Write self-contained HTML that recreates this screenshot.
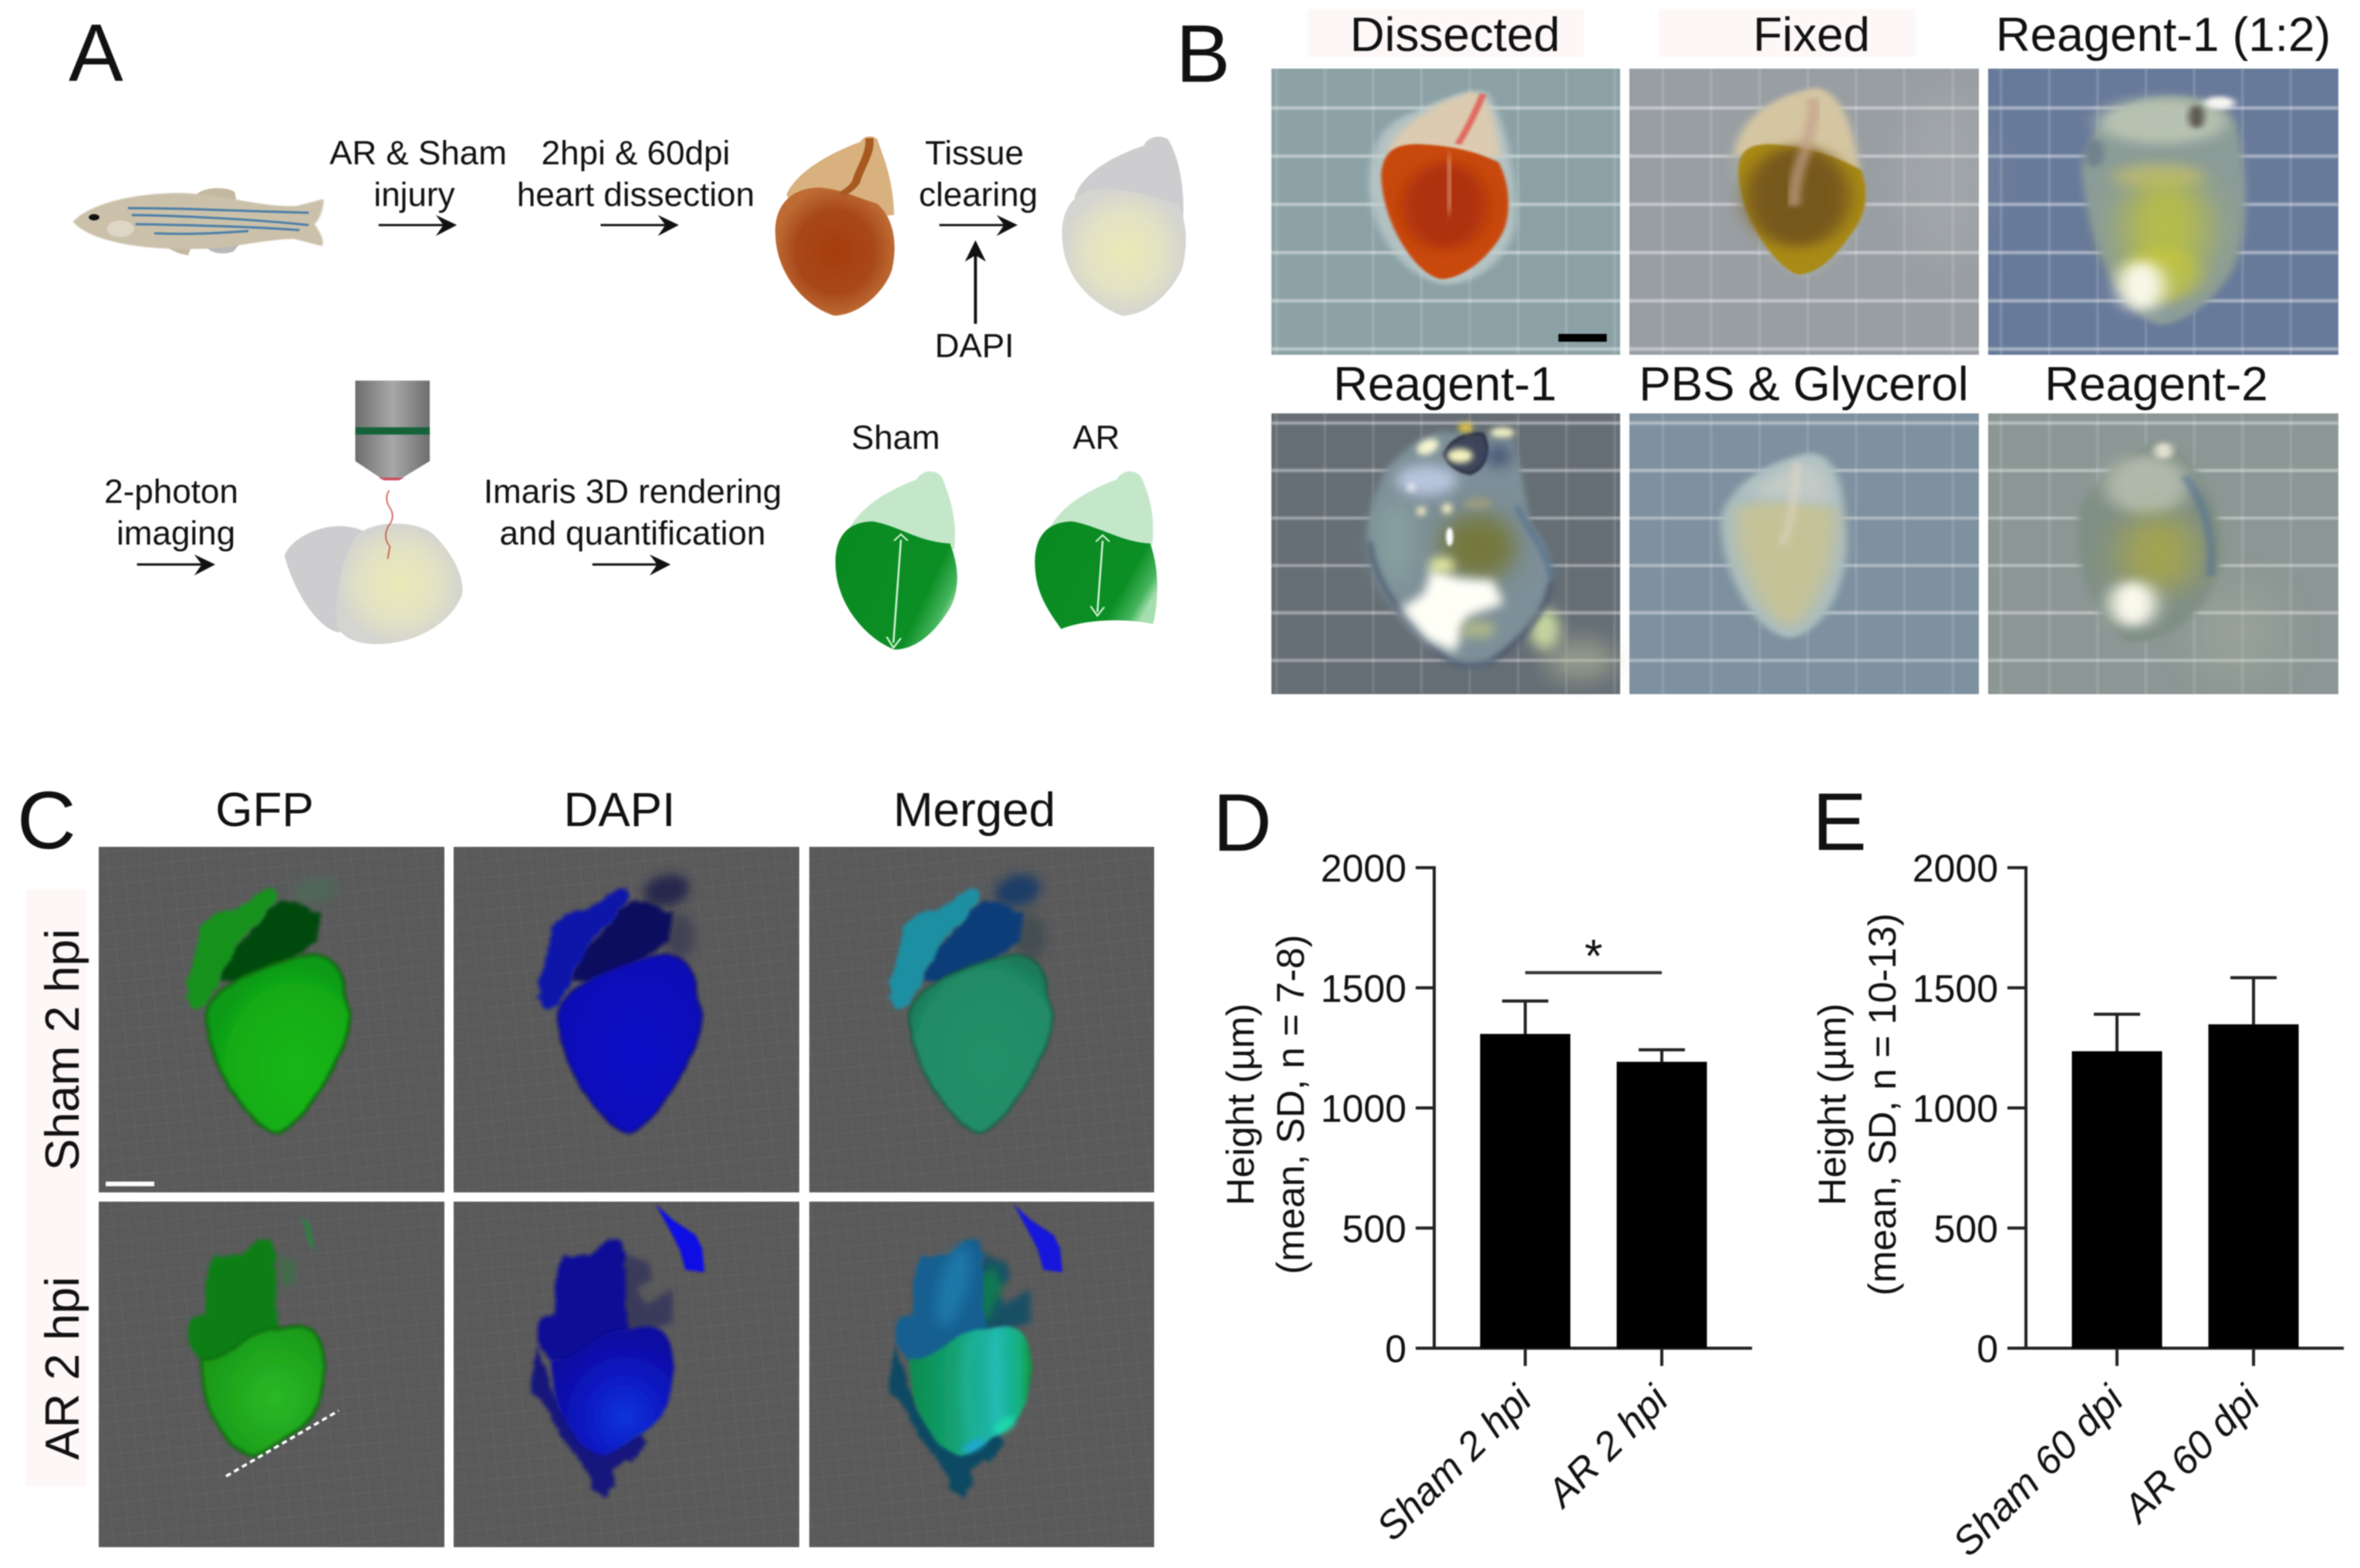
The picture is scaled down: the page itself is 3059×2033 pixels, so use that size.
<!DOCTYPE html>
<html lang="en">
<head>
<meta charset="utf-8">
<title>Zebrafish heart clearing figure</title>
<style>
html,body{margin:0;padding:0;background:#fff;}
#figure{display:block;width:3059px;height:2033px;filter:blur(0.7px);}
text{font-family:"Liberation Sans",Arial,sans-serif;fill:#111;}
.a{font-size:44px;text-anchor:middle;}
.b{font-size:62px;text-anchor:middle;}
.p{font-size:106px;}
</style>
</head>
<body>
<svg id="figure" xmlns="http://www.w3.org/2000/svg" width="3059" height="2033" viewBox="0 0 3059 2033">
<defs>
  <filter id="b1"><feGaussianBlur stdDeviation="1"/></filter>
  <filter id="b2" x="-20%" y="-20%" width="140%" height="140%"><feGaussianBlur stdDeviation="2"/></filter>
  <filter id="b5" x="-30%" y="-30%" width="160%" height="160%"><feGaussianBlur stdDeviation="5"/></filter>
  <filter id="b12" x="-50%" y="-50%" width="200%" height="200%"><feGaussianBlur stdDeviation="12"/></filter>
  <filter id="b20" x="-60%" y="-60%" width="220%" height="220%"><feGaussianBlur stdDeviation="20"/></filter>
  <filter id="b25" x="-80%" y="-80%" width="260%" height="260%"><feGaussianBlur stdDeviation="25"/></filter>
  <filter id="b45" x="-100%" y="-100%" width="300%" height="300%"><feGaussianBlur stdDeviation="45"/></filter>
  <filter id="rough" x="-15%" y="-15%" width="130%" height="130%"><feTurbulence type="fractalNoise" baseFrequency="0.03" numOctaves="3" seed="4" result="n"/><feDisplacementMap in="SourceGraphic" in2="n" scale="28" xChannelSelector="R" yChannelSelector="G"/><feGaussianBlur stdDeviation="7"/></filter>
  <filter id="rough2" x="-15%" y="-15%" width="130%" height="130%"><feTurbulence type="fractalNoise" baseFrequency="0.015" numOctaves="2" seed="7" result="n"/><feDisplacementMap in="SourceGraphic" in2="n" scale="12" xChannelSelector="R" yChannelSelector="G"/><feGaussianBlur stdDeviation="6"/></filter>
  <radialGradient id="g-red"><stop offset="0" stop-color="#a63c0c"/><stop offset="0.65" stop-color="#a8481a"/><stop offset="1" stop-color="#bd6a33"/></radialGradient>
  <radialGradient id="g-clear"><stop offset="0" stop-color="#e9e9b6"/><stop offset="0.6" stop-color="#e2e2c4"/><stop offset="1" stop-color="#d4d4d0"/></radialGradient>
  <linearGradient id="g-green" x1="0" y1="0.15" x2="1" y2="0.65"><stop offset="0" stop-color="#0a8a20"/><stop offset="0.76" stop-color="#0b8e24"/><stop offset="0.92" stop-color="#45b45c"/><stop offset="1" stop-color="#a5dfaf"/></linearGradient>
  <linearGradient id="g-obj" x1="0" y1="0" x2="1" y2="0"><stop offset="0" stop-color="#6e6e6e"/><stop offset="0.5" stop-color="#a8a8a8"/><stop offset="1" stop-color="#6e6e6e"/></linearGradient>
  <radialGradient id="g-gfp" cx="0.62" cy="0.65" r="0.6"><stop offset="0" stop-color="#14b814"/><stop offset="0.8" stop-color="#12aa14"/><stop offset="1" stop-color="#0e9a12"/></radialGradient>
  <radialGradient id="g-dapi" cx="0.55" cy="0.55" r="0.6"><stop offset="0" stop-color="#0b0fc8"/><stop offset="1" stop-color="#0a0cb4"/></radialGradient>
  <radialGradient id="g-merge" cx="0.55" cy="0.6" r="0.6"><stop offset="0" stop-color="#24916a"/><stop offset="0.85" stop-color="#208a66"/><stop offset="1" stop-color="#1a7a58"/></radialGradient>
  <radialGradient id="g-gfp2" cx="0.6" cy="0.55" r="0.6"><stop offset="0" stop-color="#2ab826"/><stop offset="1" stop-color="#1a9a18"/></radialGradient>
  <radialGradient id="g-dapi2" cx="0.6" cy="0.7" r="0.65"><stop offset="0" stop-color="#0c34dc"/><stop offset="0.6" stop-color="#0a14bc"/><stop offset="1" stop-color="#0a0ca0"/></radialGradient>
  <linearGradient id="g-merge2" x1="0" y1="0" x2="1" y2="0"><stop offset="0" stop-color="#0f8a4c"/><stop offset="0.35" stop-color="#12a070"/><stop offset="0.72" stop-color="#1eb8b0"/><stop offset="0.9" stop-color="#14b080"/><stop offset="1" stop-color="#10963c"/></linearGradient>
  <pattern id="paper1" patternUnits="userSpaceOnUse" width="62.6" height="62.5" patternTransform="translate(1716 138)"><rect x="0" y="0" width="2.5" height="62.5" fill="#fff" opacity="0.2"/><rect x="0" y="0" width="63" height="4" fill="#fff" opacity="0.45"/></pattern>
  <pattern id="paper2" patternUnits="userSpaceOnUse" width="62.6" height="61.5" patternTransform="translate(1716 608)"><rect x="0" y="0" width="2.5" height="62.5" fill="#fff" opacity="0.17"/><rect x="0" y="0" width="63" height="4" fill="#fff" opacity="0.42"/></pattern>
  <pattern id="mesh" patternUnits="userSpaceOnUse" width="21" height="21" patternTransform="rotate(-6)"><path d="M0 0H21M0 0V21" stroke="#8a8a8a" stroke-width="1.4" fill="none"/></pattern>
  <g id="arrow"><path d="M0 0H92" stroke="#111" stroke-width="5" fill="none"/><path d="M104 0L76 -22L86 0L76 24Z" fill="#111"/></g>
  <path id="sham-v" d="M420 640C430 590 500 530 620 480C700 450 790 410 860 425C930 440 950 500 960 590C990 650 970 730 930 820C880 930 780 1080 700 1112C640 1110 580 1040 520 950C460 860 415 740 420 640Z"/>
  <path id="sham-af" d="M340 590L345 520L375 420L395 310L440 265L540 240L640 170L680 160L695 190L640 280L560 350L490 470L470 530L410 620L370 630Z"/>
  <path id="sham-ab" d="M470 520L500 420L590 330L660 240L710 205L800 230L865 260L860 320L830 390L760 430L640 490L540 520Z"/>
  <path id="ar-v" d="M390 610C470 620 520 560 600 510C680 490 780 480 820 500C860 550 870 620 860 700C850 790 810 870 730 910C680 940 620 980 590 990C520 980 440 880 410 780C395 720 385 660 390 610Z"/>
  <path id="ar-a" d="M335 480L340 460L400 440L410 270L440 210L540 210L600 150L660 145L675 210L680 500L600 540L520 620L400 620L340 570Z"/>
  <path id="ar-back" d="M680 205L770 240L780 300L720 340L760 400L860 340L860 470L800 490L620 520L640 300Z"/>
  <path id="ar-fringe" d="M330 560L310 740L360 780C400 880 490 1000 550 1080L540 1120L600 1145L640 1100L625 1040L720 990L760 940L730 900L590 980L420 800Z"/>
  <path id="ar-frag" d="M795 10L860 70L950 130L975 180L985 275L910 265L890 190L860 130Z"/>
  <clipPath id="clip-b"><rect x="1648" y="89" width="452" height="371"/><rect x="2112" y="89" width="453" height="371"/><rect x="2577" y="89" width="454" height="371"/><rect x="1648" y="536" width="452" height="364"/><rect x="2112" y="536" width="453" height="364"/><rect x="2577" y="536" width="454" height="364"/></clipPath>
</defs>

<rect width="3059" height="2033" fill="#fff"/>

<!-- Panel labels -->
<text class="p" x="89" y="105">A</text>
<text class="p" x="1524" y="106">B</text>
<text class="p" x="22" y="1100">C</text>
<text class="p" x="1572" y="1103">D</text>
<text class="p" x="2349" y="1102">E</text>

<!-- Panel A graphics, drawn in a 1.025 x 1.686 stretched space -->
<g transform="scale(0.9756 0.5931)">
  <g>
    <path d="M260 428C265 410 300 405 312 420L315 450Z" fill="#c4b9a0"/>
    <path d="M218 535L255 535L250 558C235 555 225 545 218 535Z" fill="#c4b9a0"/>
    <path d="M270 530C290 505 320 510 330 510L310 550C290 560 275 550 270 530Z" fill="#b9b9b9"/>
    <path d="M97 485C115 450 170 422 240 422C300 425 350 455 395 450L430 435C430 460 424 480 418 490C424 505 432 525 428 538L390 522C340 525 300 548 240 544C170 544 115 520 97 485Z" fill="#cbc1aa" filter="url(#b1)"/>
    <ellipse cx="160" cy="500" rx="18" ry="18" fill="#ded7c6"/>
    <circle cx="125" cy="475" r="7" fill="#111"/>
    <path d="M170 455C250 455 330 462 410 465M175 470C250 472 340 480 410 492M180 490C250 492 330 495 398 503M205 510C250 513 290 510 330 505" stroke="#4c7fa8" stroke-width="5" fill="none"/>
  </g>
  <use href="#arrow" x="503" y="492"/>
  <use href="#arrow" x="798" y="492"/>
  <use href="#arrow" x="1248" y="492"/>
  <path d="M1296 708V540" stroke="#111" stroke-width="4" fill="none"/>
  <path d="M1296 525L1282 572L1296 558L1310 572Z" fill="#111"/>
  <use href="#arrow" x="182" y="1234"/>
  <use href="#arrow" x="787" y="1234"/>

  <g>
    <path d="M1045 425C1060 370 1110 330 1143 310C1148 295 1160 295 1166 305C1172 340 1186 380 1188 470L1120 480L1060 480Z" fill="#d9b17f"/>
    <path d="M1030 505C1030 450 1050 410 1090 410C1120 415 1135 430 1165 445C1190 480 1192 540 1185 590C1175 640 1140 690 1108 690C1070 670 1030 600 1030 505Z" fill="url(#g-red)"/>
    <path d="M1155 302C1158 335 1140 375 1138 395C1135 408 1125 418 1118 425" stroke="#a75a1f" stroke-width="11" fill="none"/>
  </g>
  <g>
    <path d="M1428 430C1440 370 1490 335 1520 318C1525 296 1545 295 1552 305C1565 340 1574 400 1572 480L1470 480L1430 470Z" fill="#cdcdcf"/>
    <path d="M1411 510C1411 450 1430 412 1470 412C1510 418 1540 430 1566 450C1578 490 1578 540 1570 590C1555 640 1525 690 1490 690C1445 660 1411 600 1411 510Z" fill="url(#g-clear)"/>
  </g>
  <g>
    <path d="M472 832H571V1008L535 1044L505 1044L472 1008Z" fill="url(#g-obj)"/>
    <rect x="472" y="934" width="99" height="16" fill="#16633a"/>
    <path d="M503 1044H537L530 1050H510Z" fill="#c94a5a"/>
  </g>
  <g>
    <path d="M378 1215C385 1180 420 1150 450 1150C480 1150 500 1170 500 1200L500 1380L448 1382C420 1370 390 1290 378 1215Z" fill="#cdcdcf"/>
    <path d="M475 1170C495 1135 560 1135 580 1175C600 1210 618 1260 614 1300C600 1360 555 1408 500 1408C470 1408 450 1390 447 1360C445 1300 455 1210 475 1170Z" fill="url(#g-clear)"/>
    <path d="M517 1072Q510 1090 518 1110Q526 1130 516 1150Q508 1175 518 1195L515 1222" stroke="#c5492f" stroke-width="2" fill="none" opacity="0.8"/>
  </g>
  <g>
    <path d="M1127 1160C1145 1100 1190 1065 1218 1048C1225 1025 1245 1025 1252 1045C1262 1090 1272 1130 1268 1200L1180 1210L1130 1190Z" fill="#c4e7ca"/>
    <path d="M1110 1230C1110 1175 1125 1140 1160 1140C1195 1150 1220 1185 1262 1188C1275 1240 1275 1290 1262 1330C1245 1375 1220 1420 1188 1420C1150 1395 1110 1320 1110 1230Z" fill="url(#g-green)"/>
    <path d="M1197 1180L1187 1405M1188 1182L1197 1168L1206 1182M1178 1392L1187 1416L1197 1395" stroke="#d7f5da" stroke-width="2.5" fill="none"/>
  </g>
  <g>
    <path d="M1393 1160C1410 1100 1455 1065 1484 1048C1491 1025 1510 1025 1517 1045C1528 1090 1536 1130 1530 1200L1445 1210L1396 1190Z" fill="#c4e7ca"/>
    <path d="M1375 1230C1375 1175 1390 1140 1425 1140C1460 1150 1490 1185 1528 1188C1540 1240 1540 1310 1532 1364C1490 1350 1440 1355 1410 1375C1390 1330 1375 1290 1375 1230Z" fill="url(#g-green)"/>
    <path d="M1465 1182L1458 1338M1456 1184L1465 1170L1474 1184M1449 1325L1458 1346L1467 1327" stroke="#d7f5da" stroke-width="2.5" fill="none"/>
  </g>
</g>

<!-- Panel A text -->
<text class="a" x="542" y="213">AR &amp; Sham</text>
<text class="a" x="537" y="267">injury</text>
<text class="a" x="824" y="213">2hpi &amp; 60dpi</text>
<text class="a" x="824" y="267">heart dissection</text>
<text class="a" x="1263" y="213">Tissue</text>
<text class="a" x="1268" y="267">clearing</text>
<text class="a" x="1263" y="463">DAPI</text>
<text class="a" x="222" y="652">2-photon</text>
<text class="a" x="228" y="706">imaging</text>
<text class="a" x="820" y="652">Imaris 3D rendering</text>
<text class="a" x="820" y="706">and quantification</text>
<text class="a" x="1161" y="582">Sham</text>
<text class="a" x="1421" y="582">AR</text>

<!-- Panel B -->
<rect x="1695" y="12" width="358" height="62" fill="#fdf7f7"/>
<rect x="2150" y="12" width="333" height="62" fill="#fdf7f7"/>
<text class="b" x="1886" y="66">Dissected</text>
<text class="b" x="2348" y="66">Fixed</text>
<text class="b" x="2804" y="66">Reagent-1 (1:2)</text>
<text class="b" x="1873" y="519">Reagent-1</text>
<text class="b" x="2338" y="519">PBS &amp; Glycerol</text>
<text class="b" x="2795" y="519">Reagent-2</text>

<g>
  <rect x="1648" y="89" width="452" height="371" fill="#8ba1a5"/>
  <rect x="2112" y="89" width="453" height="371" fill="#999ea3"/>
  <rect x="2577" y="89" width="454" height="371" fill="#687a9a"/>
  <rect x="1648" y="536" width="452" height="364" fill="#656e75"/>
  <rect x="2112" y="536" width="453" height="364" fill="#7e91a0"/>
  <rect x="2577" y="536" width="454" height="364" fill="#8c9795"/>
  <g clip-path="url(#clip-b)">
    <rect x="1648" y="89" width="1383" height="371" fill="url(#paper1)" filter="url(#b1)"/>
    <rect x="1648" y="536" width="1383" height="364" fill="url(#paper2)" filter="url(#b1)"/>
    <ellipse cx="2520" cy="230" rx="60" ry="110" fill="#c2c6c6" opacity="0.2" filter="url(#b25)"/>
    <ellipse cx="2900" cy="820" rx="60" ry="60" fill="#b8c0a8" opacity="0.25" filter="url(#b25)"/>
  </g>
  <g transform="translate(1500 0) scale(0.9942 0.5931)">
    <g>
      <path d="M276 400C278 300 300 265 335 245C370 215 405 195 430 200C450 260 466 330 468 480C462 560 420 622 375 622C320 610 276 500 276 400Z" fill="#c4d0d0" opacity="0.7" filter="url(#b5)"/>
      <path d="M300 330C315 270 370 220 410 200C430 205 440 250 448 345L395 340Z" fill="#dccbb0" filter="url(#b5)"/>
      <path d="M292 380C295 330 310 315 340 315C390 318 420 335 445 355C460 400 462 470 450 510C430 570 395 610 370 610C335 600 292 480 292 380Z" fill="#c9480f" filter="url(#b2)"/>
      <ellipse cx="375" cy="450" rx="55" ry="95" fill="#ad3309" filter="url(#b12)"/>
      <path d="M425 205C415 245 405 280 392 315" stroke="#e06a60" stroke-width="9" fill="none" filter="url(#b2)"/>
      <path d="M380 340C385 380 375 420 382 465" stroke="#ecc0a8" stroke-width="16" fill="none" opacity="0.75" filter="url(#b12)"/>
    </g>
    <g>
      <path d="M745 340C750 260 790 210 860 190C895 200 915 290 925 440C925 500 880 610 840 608C790 590 745 440 745 340Z" fill="#a6aca6" opacity="0.6" filter="url(#b5)"/>
      <path d="M752 340C760 260 800 210 860 192C890 205 905 260 915 372L840 340Z" fill="#d5c6a2" filter="url(#b5)"/>
      <path d="M758 375C758 330 770 315 800 315C850 320 890 345 918 372C928 420 925 470 905 510C885 560 860 600 835 600C800 580 758 460 758 375Z" fill="#a98a12" filter="url(#b2)"/>
      <ellipse cx="835" cy="430" rx="68" ry="110" fill="#77581a" filter="url(#b12)"/>
      <path d="M855 215C860 260 845 300 845 330C835 370 830 410 830 450" stroke="#c2a08a" stroke-width="16" fill="none" opacity="0.7" filter="url(#b5)"/>
    </g>
    <g>
      <path d="M1205 370C1210 290 1240 240 1290 215C1340 200 1395 215 1410 290C1420 380 1425 500 1405 580C1385 650 1340 710 1305 710C1260 690 1215 560 1205 370Z" fill="#8b9c98" filter="url(#b5)"/>
      <ellipse cx="1310" cy="265" rx="85" ry="50" fill="#bcc6b4" opacity="0.9" filter="url(#b12)"/>
      <ellipse cx="1385" cy="225" rx="20" ry="14" fill="#f6f6f0" filter="url(#b5)"/>
      <ellipse cx="1305" cy="385" rx="60" ry="28" fill="#d0c46a" opacity="0.55" filter="url(#b12)"/>
      <ellipse cx="1315" cy="500" rx="55" ry="115" fill="#c0c438" opacity="0.8" filter="url(#b25)"/>
      <ellipse cx="1310" cy="600" rx="50" ry="60" fill="#c4c63c" opacity="0.7" filter="url(#b12)"/>
      <ellipse cx="1283" cy="625" rx="30" ry="55" fill="#f8f8e8" filter="url(#b12)"/>
      <ellipse cx="1355" cy="255" rx="10" ry="26" fill="#5a564e" filter="url(#b5)"/>
      <ellipse cx="1222" cy="335" rx="12" ry="30" fill="#5d7084" opacity="0.6" filter="url(#b5)"/>
    </g>
    <g>
      <path d="M735 1140C740 1070 790 1010 850 990C880 990 895 1050 895 1130C910 1230 880 1380 825 1395C770 1380 735 1230 735 1140Z" fill="#a9bcc0" filter="url(#b5)"/>
      <path d="M755 1110C790 1090 830 1090 885 1110C890 1180 875 1320 825 1375C785 1350 748 1220 755 1110Z" fill="#c5c298" filter="url(#b12)"/>
      <path d="M770 1080C790 1040 825 1010 860 1005C875 1040 880 1075 880 1100L830 1095Z" fill="#c9cec8" opacity="0.8" filter="url(#b12)"/>
      <path d="M835 1010C830 1080 830 1130 815 1190" stroke="#e4d8c8" stroke-width="8" fill="none" opacity="0.7" filter="url(#b5)"/>
    </g>
    <g>
      <path d="M1200 1130C1210 1060 1260 990 1305 965C1350 980 1385 1090 1390 1200C1385 1300 1340 1400 1270 1405C1220 1370 1195 1240 1200 1130Z" fill="#808f86" filter="url(#b5)"/>
      <ellipse cx="1290" cy="1060" rx="55" ry="65" fill="#b8c0b0" opacity="0.85" filter="url(#b12)"/>
      <ellipse cx="1305" cy="1210" rx="50" ry="85" fill="#a9a846" opacity="0.85" filter="url(#b25)"/>
      <ellipse cx="1272" cy="1320" rx="30" ry="50" fill="#fbfbec" filter="url(#b12)"/>
      <ellipse cx="1312" cy="985" rx="12" ry="18" fill="#e4e0d0" filter="url(#b5)"/>
      <path d="M1340 1040C1365 1100 1380 1180 1372 1260" stroke="#4a6a92" stroke-width="6" fill="none" filter="url(#b5)"/>
    </g>
    <rect x="523" y="730" width="63" height="17" fill="#000"/>
  </g>
  <g transform="translate(1649 536) scale(0.3333)" clip-path="none">
    <ellipse cx="1060" cy="840" rx="60" ry="80" fill="#cfe0a4" opacity="0.9" filter="url(#b25)"/>
    <ellipse cx="1200" cy="960" rx="140" ry="80" fill="#c0c4a0" opacity="0.5" filter="url(#b45)"/>
    <path d="M370 470C370 380 420 260 440 220C500 150 570 90 660 70L940 100C970 200 980 330 1010 440C1060 500 1090 570 1085 650C1060 780 950 900 830 975C780 995 720 985 680 950C560 880 440 750 400 640C375 570 368 520 370 470Z" fill="#7d8f98" filter="url(#b12)"/>
    <ellipse cx="800" cy="520" rx="150" ry="130" fill="#74783c" filter="url(#b45)"/>
    <ellipse cx="480" cy="500" rx="70" ry="170" fill="#86a0a0" filter="url(#b45)"/>
    <ellipse cx="600" cy="260" rx="120" ry="60" fill="#b8c4dc" filter="url(#b25)"/>
    <path d="M380 500C390 620 480 790 660 940C720 990 800 990 860 960C960 890 1070 780 1085 650" stroke="#3f4b66" stroke-width="14" fill="none" filter="url(#b12)"/>
    <path d="M950 360C1000 470 1070 530 1085 640" stroke="#4a6a90" stroke-width="14" fill="none" filter="url(#b12)"/>
    <path d="M620 600L720 640L860 650L900 740L760 790L710 930L600 880L500 760L590 700Z" fill="#fffff6" filter="url(#b20)"/>
    <ellipse cx="800" cy="840" rx="70" ry="35" fill="#aab48a" filter="url(#b20)"/>
    <ellipse cx="660" cy="590" rx="50" ry="30" fill="#e4eaa0" filter="url(#b20)"/>
    <ellipse cx="690" cy="480" rx="14" ry="36" fill="#fff" filter="url(#b5)"/>
    <circle cx="580" cy="380" r="18" fill="#f4ecc0" filter="url(#b12)"/>
    <circle cx="680" cy="370" r="20" fill="#f4ecc0" filter="url(#b12)"/>
    <circle cx="540" cy="288" r="14" fill="#fff" filter="url(#b12)"/>
    <ellipse cx="800" cy="350" rx="55" ry="22" fill="#9a9a80" filter="url(#b12)"/>
    <path d="M670 160C690 100 760 70 820 80C850 130 840 210 770 235C730 230 680 200 670 160Z" fill="#3e4558" stroke="#24283c" stroke-width="9" filter="url(#b5)"/>
    <ellipse cx="730" cy="165" rx="50" ry="28" fill="#f4f4c0" filter="url(#b12)"/>
    <ellipse cx="752" cy="55" rx="28" ry="18" fill="#e8c840" filter="url(#b12)"/>
    <ellipse cx="895" cy="75" rx="48" ry="20" fill="#f6f6c8" filter="url(#b12)"/>
    <ellipse cx="605" cy="130" rx="45" ry="28" fill="#f6f6d0" transform="rotate(-25 605 130)" filter="url(#b12)"/>
    <ellipse cx="880" cy="165" rx="55" ry="45" fill="#3a4a70" opacity="0.7" filter="url(#b25)"/>
  </g>
</g>

<!-- Panel C -->
<rect x="34" y="1153" width="78" height="774" fill="#fdf7f7"/>
<text class="b" x="343" y="1071">GFP</text>
<text class="b" x="803" y="1071">DAPI</text>
<text class="b" x="1263" y="1071">Merged</text>
<text class="b" transform="translate(102 1361) rotate(-90)">Sham 2 hpi</text>
<text class="b" transform="translate(102 1774) rotate(-90)">AR 2 hpi</text>

<g>
  <rect x="128" y="1098" width="448" height="448" fill="#5a5a5b"/>
  <rect x="588" y="1098" width="448" height="448" fill="#5a5a5b"/>
  <rect x="1049" y="1098" width="447" height="448" fill="#5a5a5b"/>
  <rect x="128" y="1558" width="448" height="448" fill="#5a5a5b"/>
  <rect x="588" y="1558" width="448" height="448" fill="#5a5a5b"/>
  <rect x="1049" y="1558" width="447" height="448" fill="#5a5a5b"/>
  <g opacity="0.22">
    <rect x="128" y="1098" width="448" height="448" fill="url(#mesh)"/><rect x="588" y="1098" width="448" height="448" fill="url(#mesh)"/><rect x="1049" y="1098" width="447" height="448" fill="url(#mesh)"/>
    <rect x="128" y="1558" width="448" height="448" fill="url(#mesh)"/><rect x="588" y="1558" width="448" height="448" fill="url(#mesh)"/><rect x="1049" y="1558" width="447" height="448" fill="url(#mesh)"/>
  </g>

  <g transform="translate(128 1098) scale(0.3333)">
    <ellipse cx="840" cy="170" rx="90" ry="50" fill="#4e6a58" opacity="0.8" transform="rotate(-15 840 170)" filter="url(#b20)"/>
    <use href="#sham-ab" fill="#04480f" filter="url(#rough)"/>
    <use href="#sham-af" fill="#12921a" filter="url(#rough)"/>
    <use href="#sham-v" fill="url(#g-gfp)" stroke="#086a0a" stroke-width="12" filter="url(#rough2)"/>
  </g>
  <g transform="translate(584 1098) scale(0.3333)">
    <ellipse cx="840" cy="170" rx="90" ry="60" fill="#20204c" opacity="0.9" transform="rotate(-15 840 170)" filter="url(#b20)"/>
    <ellipse cx="890" cy="350" rx="60" ry="90" fill="#3a3a52" opacity="0.75" filter="url(#b20)"/>
    <use href="#sham-ab" fill="#0a0a5e" filter="url(#rough)"/>
    <use href="#sham-af" fill="#0a12a8" filter="url(#rough)"/>
    <use href="#sham-v" fill="url(#g-dapi)" stroke="#0a0a80" stroke-width="9" filter="url(#rough2)"/>
  </g>
  <g transform="translate(1039 1098) scale(0.3333)">
    <ellipse cx="840" cy="170" rx="90" ry="60" fill="#123a68" opacity="0.9" transform="rotate(-15 840 170)" filter="url(#b20)"/>
    <ellipse cx="890" cy="350" rx="60" ry="90" fill="#3c4a50" opacity="0.75" filter="url(#b20)"/>
    <use href="#sham-ab" fill="#0d3c78" filter="url(#rough)"/>
    <use href="#sham-af" fill="#1f8fa2" filter="url(#rough)"/>
    <use href="#sham-v" fill="url(#g-merge)" stroke="#155a40" stroke-width="9" filter="url(#rough2)"/>
  </g>

  <g transform="translate(132 1558) scale(0.3333)">
    <path d="M770 50L810 90L830 200L800 150L790 100Z" fill="#2f7f44" filter="url(#b5)"/>
    <path d="M690 210L760 240L740 330L700 320Z" fill="#3a6f45" opacity="0.8" filter="url(#b12)"/>
    <use href="#ar-a" fill="#0e7e18" filter="url(#rough)"/>
    <use href="#ar-v" fill="url(#g-gfp2)" stroke="#0b6e10" stroke-width="12" filter="url(#rough2)"/>
  </g>
  <path d="M293 1914L439 1829" stroke="#fff" stroke-width="3.5" stroke-dasharray="7 5" fill="none"/>
  <g transform="translate(585 1558) scale(0.3333)">
    <use href="#ar-frag" x="0" fill="#1010e4" filter="url(#b5)"/>
    <use href="#ar-back" fill="#35355c" opacity="0.85" filter="url(#b12)"/>
    <use href="#ar-fringe" fill="#15157c" filter="url(#rough)"/>
    <use href="#ar-a" fill="#0a0a96" filter="url(#rough)"/>
    <use href="#ar-v" fill="url(#g-dapi2)" filter="url(#rough2)"/>
  </g>
  <g transform="translate(1049 1558) scale(0.3333)">
    <use href="#ar-frag" fill="#1212dc" filter="url(#b5)"/>
    <use href="#ar-back" fill="#124f66" opacity="0.95" filter="url(#b12)"/>
    <path d="M640 300L720 250L750 330L700 450L630 500Z" fill="#0f7a50" filter="url(#b20)"/>
    <use href="#ar-fringe" fill="#0e4a62" filter="url(#rough)"/>
    <use href="#ar-a" fill="#125f90" filter="url(#rough)"/>
    <ellipse cx="560" cy="330" rx="55" ry="160" fill="#1a78a8" transform="rotate(15 560 330)" filter="url(#b25)"/>
    <use href="#ar-v" fill="url(#g-merge2)" filter="url(#rough2)"/>
    <path d="M640 530C590 640 610 800 640 930M730 520C700 640 740 760 730 880" stroke="#48d0c8" stroke-width="22" opacity="0.35" fill="none" filter="url(#b20)"/>
    <ellipse cx="760" cy="870" rx="50" ry="25" fill="#1ce0b0" opacity="0.8" transform="rotate(-35 760 870)" filter="url(#b12)"/>
    <ellipse cx="640" cy="950" rx="50" ry="18" fill="#22a8d8" transform="rotate(-25 640 950)" filter="url(#b12)"/>
  </g>
  <rect x="137" y="1532" width="63" height="6" fill="#fff"/>
</g>

<!-- Panels D and E drawn by script -->
<g id="chart-d"></g>
<g id="chart-e"></g>
</svg>

<script>
const chartDCategories = ['Sham 2 hpi', 'AR 2 hpi'];
const chartDMeans = [1308, 1192];
const chartDSds = [137, 50];
const chartDTitle = ['Height (µm)', '(mean, SD, n = 7-8)'];
const chartDSignificance = [1563];
const chartECategories = ['Sham 60 dpi', 'AR 60 dpi'];
const chartEMeans = [1236, 1348];
const chartESds = [154, 194];
const chartETitle = ['Height (µm)', '(mean, SD, n = 10-13)'];
const yTickValues = [0, 500, 1000, 1500, 2000];

const SVG_NS = 'http://www.w3.org/2000/svg';
const axisBottom = 1748;
const pxPerUnit = 0.3115;
const axisLen = 412;
const bandStart = 118;
const bandStep = 177;
const barWidth = 117;
const capWidth = 60;
const inkColor = '#222';

function yScale(v) { return axisBottom - v * pxPerUnit; }
function xScale(axisX, i) { return axisX + bandStart + i * bandStep; }

function make(parent, tag, attrs, txt) {
  const el = document.createElementNS(SVG_NS, tag);
  for (const k in attrs) el.setAttribute(k, attrs[k]);
  if (txt !== undefined) el.textContent = txt;
  parent.appendChild(el);
  return el;
}

function drawChart(root, axisX, titleX, titleY, categories, means, sds, titles) {
  const yTop = yScale(yTickValues[yTickValues.length - 1]);
  const yAxis = make(root, 'line', {x1: axisX, x2: axisX, y1: yTop - 2, y2: axisBottom, stroke: inkColor, 'stroke-width': 4});
  
  
  const xAxis = make(root, 'line', {x1: axisX, x2: axisX + axisLen, y1: axisBottom, y2: axisBottom, stroke: inkColor, 'stroke-width': 4});
  
  

  yTickValues.forEach(function (v) {
    const y = yScale(v);
    const tick = make(root, 'line', {x1: axisX - 24, x2: axisX, y1: y, y2: y, stroke: inkColor, 'stroke-width': 4});
    
    
    const label = make(root, 'text', {x: axisX - 36, y: y + 18, 'text-anchor': 'end', 'font-size': 50}, String(v));
    
    
  });

  categories.forEach(function (name, i) {
    const cx = xScale(axisX, i);
    const top = yScale(means[i]);
    const errTop = yScale(means[i] + sds[i]);
    const err = make(root, 'path', {d: 'M' + cx + ' ' + top + 'V' + errTop + 'M' + (cx - capWidth / 2) + ' ' + errTop + 'H' + (cx + capWidth / 2), stroke: inkColor, 'stroke-width': 4, fill: 'none'});
    
    
    const bar = make(root, 'rect', {x: cx - barWidth / 2, y: top, width: barWidth, height: axisBottom - top, fill: '#000'});
    
    
    const tick = make(root, 'line', {x1: cx, x2: cx, y1: axisBottom, y2: axisBottom + 23, stroke: inkColor, 'stroke-width': 4});
    
    
    const label = make(root, 'text', {transform: 'translate(' + (cx + 11) + ' ' + (axisBottom + 70) + ') rotate(-45)', 'text-anchor': 'end', 'font-size': 51, 'font-style': 'italic'}, name);
    
    
  });

  titles.forEach(function (t, i) {
    const title = make(root, 'text', {transform: 'translate(' + (titleX + i * 65) + ' ' + titleY + ') rotate(-90)', 'text-anchor': 'middle', 'font-size': 50}, t);
    
    
  });
}

const rootD = document.getElementById('chart-d');
const rootE = document.getElementById('chart-e');
drawChart(rootD, 1859, 1625, 1432, chartDCategories, chartDMeans, chartDSds, chartDTitle);
drawChart(rootE, 2626, 2392, 1432, chartECategories, chartEMeans, chartESds, chartETitle);

const sigY = yScale(chartDSignificance[0]);
const sigLine = make(rootD, 'line', {x1: xScale(1859, 0), x2: xScale(1859, 1), y1: sigY, y2: sigY, stroke: '#333', 'stroke-width': 4});


const sigStar = make(rootD, 'text', {x: (xScale(1859, 0) + xScale(1859, 1)) / 2, y: sigY - 1, 'text-anchor': 'middle', 'font-size': 60}, '*');


</script>
</body>
</html>
